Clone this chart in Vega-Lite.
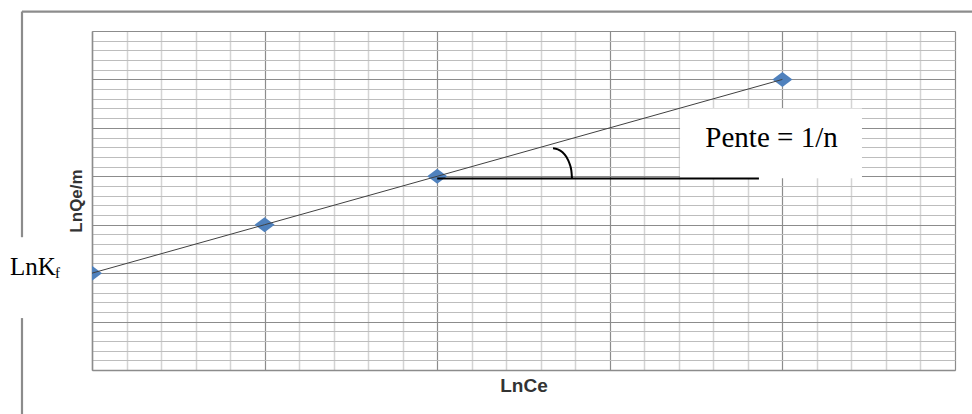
{
  "$schema": "https://vega.github.io/schema/vega-lite/v6.json",
  "width": 863,
  "height": 339,
  "autosize": {"type": "none"},
  "padding": {"left": 92, "top": 31, "right": 17, "bottom": 44},
  "background": "white",
  "config": {"view": {"stroke": null}},
  "datasets": {
    "pts": [{"x": 0, "y": 2}, {"x": 1, "y": 3}, {"x": 2, "y": 4}, {"x": 4, "y": 6}],
    "box": [{"x": 3.407, "x2": 4.461, "y": 5.402, "y2": 3.959}],
    "border": [
      {"x": -0.4056, "x2": -0.4056, "y": 7.402, "y2": 2.742},
      {"x": -0.4056, "x2": -0.4056, "y": 1.072, "y2": -1.0},
      {"x": -0.4056, "x2": 5.2, "y": 7.402, "y2": 7.402}
    ],
    "hline": [{"x": 2, "x2": 3.864, "y": 3.955}],
    "arc": [
      {"i": 0, "x": 2.671, "y": 4.577},
      {"i": 1, "x": 2.699, "y": 4.557},
      {"i": 2, "x": 2.726, "y": 4.495},
      {"i": 3, "x": 2.749, "y": 4.396},
      {"i": 4, "x": 2.766, "y": 4.268},
      {"i": 5, "x": 2.777, "y": 4.120},
      {"i": 6, "x": 2.781, "y": 3.955}
    ],
    "pente": [{"x": 3.937, "y": 4.604, "t": "Pente = 1/n"}],
    "lnk": [{"x": -0.475, "y": 1.959, "t": "LnK"}],
    "lnkf": [{"x": -0.214, "y": 1.90, "t": "f"}]
  },
  "layer": [
    {
      "data": {"name": "box"},
      "mark": {"type": "rect", "fill": "white", "stroke": null},
      "encoding": {
        "x": {
          "field": "x", "type": "quantitative",
          "scale": {"domain": [0, 5], "nice": false, "zero": false},
          "axis": {
            "values": [0,0.2,0.4,0.6,0.8,1,1.2,1.4,1.6,1.8,2,2.2,2.4,2.6,2.8,3,3.2,3.4,3.6,3.8,4,4.2,4.4,4.6,4.8,5],
            "tickCount": 500,
            "labels": false, "ticks": false,
            "domainColor": "#8c8c8c", "domainWidth": 1.5,
            "grid": true,
            "gridColor": {"condition": {"test": "abs(datum.value - round(datum.value)) < 0.001", "value": "#8c8c8c"}, "value": "#d4d4d4"},
            "gridWidth": {"condition": {"test": "abs(datum.value - round(datum.value)) < 0.001", "value": 1.2}, "value": 1.5},
            "title": "LnCe",
            "titleFont": "Liberation Sans", "titleFontWeight": "bold", "titleFontSize": 19,
            "titleColor": "#333333", "titlePadding": 6
          }
        },
        "x2": {"field": "x2"},
        "y": {
          "field": "y", "type": "quantitative",
          "scale": {"domain": [0, 7], "nice": false, "zero": false},
          "axis": {
            "values": [0,0.2,0.4,0.6,0.8,1,1.2,1.4,1.6,1.8,2,2.2,2.4,2.6,2.8,3,3.2,3.4,3.6,3.8,4,4.2,4.4,4.6,4.8,5,5.2,5.4,5.6,5.8,6,6.2,6.4,6.6,6.8,7],
            "tickCount": 500,
            "labels": false, "ticks": false,
            "domainColor": "#8c8c8c", "domainWidth": 1.5,
            "grid": true,
            "gridColor": {"condition": {"test": "abs(datum.value - round(datum.value)) < 0.001", "value": "#8c8c8c"}, "value": "#bdbdbd"},
            "gridWidth": 1,
            "title": "LnQe/m",
            "titleFont": "Liberation Sans", "titleFontWeight": "bold", "titleFontSize": 17,
            "titleColor": "#333333", "titlePadding": 7
          }
        },
        "y2": {"field": "y2"}
      }
    },
    {
      "data": {"name": "border"},
      "mark": {"type": "rule", "color": "#8c8c8c", "strokeWidth": 2.2},
      "encoding": {
        "x": {"field": "x", "type": "quantitative"},
        "x2": {"field": "x2"},
        "y": {"field": "y", "type": "quantitative"},
        "y2": {"field": "y2"}
      }
    },
    {
      "data": {"name": "pts"},
      "mark": {"type": "point", "shape": "M-1,0L0,-0.75L1,0L0,0.75Z", "size": 400, "filled": true, "color": "#4F81BD", "opacity": 1, "clip": true},
      "encoding": {
        "x": {"field": "x", "type": "quantitative"},
        "y": {"field": "y", "type": "quantitative"}
      }
    },
    {
      "data": {"name": "pts"},
      "mark": {"type": "line", "color": "#404040", "strokeWidth": 1},
      "encoding": {
        "x": {"field": "x", "type": "quantitative"},
        "y": {"field": "y", "type": "quantitative"}
      }
    },
    {
      "data": {"name": "hline"},
      "mark": {"type": "rule", "color": "black", "strokeWidth": 2},
      "encoding": {
        "x": {"field": "x", "type": "quantitative"},
        "x2": {"field": "x2"},
        "y": {"field": "y", "type": "quantitative"}
      }
    },
    {
      "data": {"name": "arc"},
      "mark": {"type": "line", "color": "black", "strokeWidth": 2, "interpolate": "monotone"},
      "encoding": {
        "x": {"field": "x", "type": "quantitative"},
        "y": {"field": "y", "type": "quantitative"},
        "order": {"field": "i", "type": "quantitative"}
      }
    },
    {
      "data": {"name": "pente"},
      "mark": {"type": "text", "font": "Liberation Serif", "fontSize": 29, "align": "center", "baseline": "alphabetic", "color": "black"},
      "encoding": {
        "x": {"field": "x", "type": "quantitative"},
        "y": {"field": "y", "type": "quantitative"},
        "text": {"field": "t"}
      }
    },
    {
      "data": {"name": "lnk"},
      "mark": {"type": "text", "font": "Liberation Serif", "fontSize": 25, "align": "left", "baseline": "alphabetic", "color": "black"},
      "encoding": {
        "x": {"field": "x", "type": "quantitative"},
        "y": {"field": "y", "type": "quantitative"},
        "text": {"field": "t"}
      }
    },
    {
      "data": {"name": "lnkf"},
      "mark": {"type": "text", "font": "Liberation Serif", "fontSize": 15, "align": "left", "baseline": "alphabetic", "color": "black"},
      "encoding": {
        "x": {"field": "x", "type": "quantitative"},
        "y": {"field": "y", "type": "quantitative"},
        "text": {"field": "t"}
      }
    }
  ]
}
